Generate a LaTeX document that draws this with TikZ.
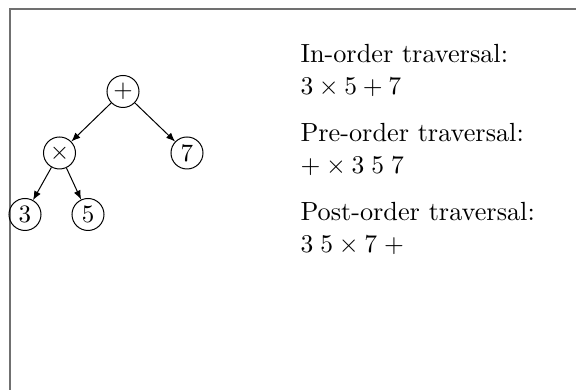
\documentclass[tikz,border=0pt]{standalone}
\usetikzlibrary{arrows.meta}
\definecolor{framegray}{HTML}{707070}
\begin{document}
\begin{tikzpicture}[x=0.4pt,y=-0.4pt,
  tnode/.style={draw,circle,inner sep=0.5pt,minimum size=12.8pt},
  tedge/.style={-{Latex[length=3.6pt,width=2.9pt]},line width=0.4pt},
  wordline/.style={anchor=base west,inner sep=0pt,scale=1.05},
  mathline/.style={anchor=base west,inner sep=0pt,scale=1.02}]
\useasboundingbox (0,0) rectangle (576,390);
\draw[framegray,line width=0.8pt] (10.5,392) -- (10.5,9.5) -- (578,9.5);
\node[tnode] (plus) at (123,91.5) {$+$};
\node[tnode] (times) at (59.5,153) {$\times$};
\node[tnode] (seven) at (187,153) {$7$};
\node[tnode] (three) at (25,214.5) {$3$};
\node[tnode] (five) at (88,214.5) {$5$};
\draw[tedge] (plus) -- (times);
\draw[tedge] (plus) -- (seven);
\draw[tedge] (times) -- (three);
\draw[tedge] (times) -- (five);
\node[wordline] (inl) at (300,63) {In-order traversal:};
\node[mathline] (ine) at (300,95) {$3\times5+7$};
\node[wordline] (prl) at (300,142) {Pre-order traversal:};
\node[mathline] (pre) at (300,174) {$+\times3\;5\;7$};
\node[wordline] (pol) at (300,221) {Post-order traversal:};
\node[mathline] (poe) at (300,253) {$3\;5\times7\;+$};
\end{tikzpicture}
\end{document}
